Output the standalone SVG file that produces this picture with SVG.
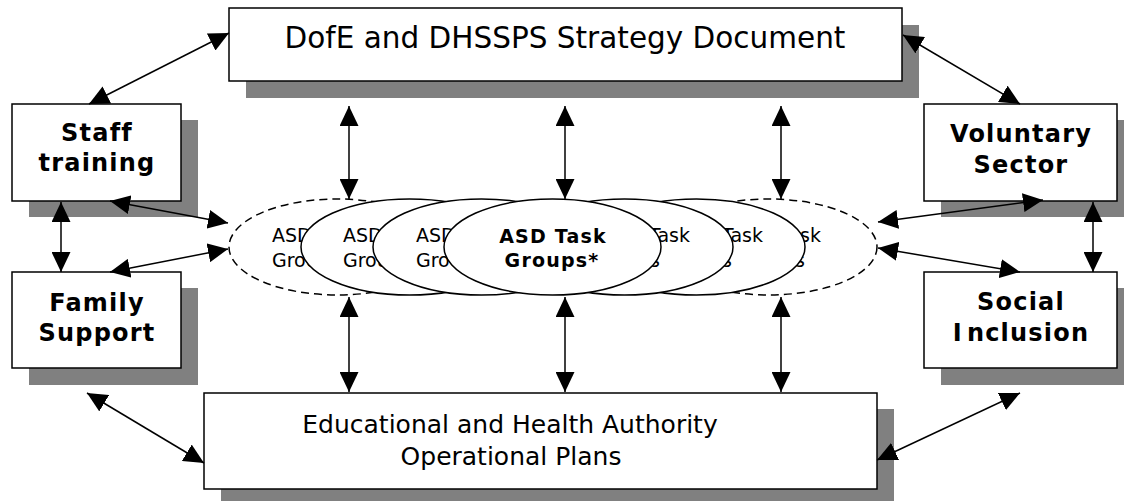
<svg xmlns="http://www.w3.org/2000/svg" width="1124" height="501" viewBox="0 0 1124 501">
<style>
.box{fill:#fff;stroke:#000;stroke-width:1.5}
.shadow{fill:#808080}
.ell{fill:#fff;stroke:#000;stroke-width:1.5}
.dash{stroke-dasharray:8 5}
.t{font-family:"DejaVu Sans",Verdana,sans-serif;fill:#000}
.reg{font-size:19px}
.bl{font-size:24px;font-weight:bold;text-anchor:middle;letter-spacing:1.2px}
.eb{font-size:19px;font-weight:bold;text-anchor:middle;letter-spacing:1.2px}
.conn line{stroke:#000;stroke-width:1.5;marker-start:url(#ah);marker-end:url(#ah)}
</style>
<defs>
<marker id="ah" markerUnits="userSpaceOnUse" markerWidth="20" markerHeight="19" refX="20" refY="9.5" orient="auto-start-reverse" viewBox="0 0 20 19">
<path d="M0,0 L20,9.5 L0,19 Z" fill="#000"/>
</marker>
</defs>
<rect width="1124" height="501" fill="#fff"/>

<g id="strategy">
<rect class="shadow" x="246" y="25" width="673" height="73"/>
<rect class="box" x="229" y="8" width="673" height="73"/>
<text class="t" x="565" y="48" font-size="29.5" text-anchor="middle">DofE and DHSSPS Strategy Document</text>
</g>

<g id="staff">
<rect class="shadow" x="29" y="120" width="169" height="97"/>
<rect class="box" x="12" y="104" width="169" height="97"/>
<text class="t bl" x="97" y="141">Staff</text>
<text class="t bl" x="97" y="171">training</text>
</g>

<g id="family">
<rect class="shadow" x="29" y="288" width="169" height="97"/>
<rect class="box" x="12" y="272" width="169" height="96"/>
<text class="t bl" x="97" y="311">Family</text>
<text class="t bl" x="97" y="341">Support</text>
</g>

<g id="voluntary">
<rect class="shadow" x="941" y="120" width="193" height="97"/>
<rect class="box" x="924" y="104" width="193" height="97"/>
<text class="t bl" x="1021" y="142">Voluntary</text>
<text class="t bl" x="1021" y="173">Sector</text>
</g>

<g id="social">
<rect class="shadow" x="941" y="288" width="193" height="97"/>
<rect class="box" x="924" y="272" width="193" height="96"/>
<text class="t bl" x="1021" y="310">Social</text>
<text class="t bl" x="1021" y="341">I<tspan dx="4">nclusion</tspan></text>
</g>

<g id="operational">
<rect class="shadow" x="221" y="409" width="673" height="100"/>
<rect class="box" x="204" y="393" width="673" height="96"/>
<text class="t" x="510" y="433" font-size="25" text-anchor="middle">Educational and Health Authority</text>
<text class="t" x="511" y="465" font-size="25" text-anchor="middle">Operational Plans</text>
</g>

<g id="task-groups">
<g id="tg-dashed-left">
<ellipse class="ell dash" cx="337.5" cy="247" rx="108.5" ry="48"/>
<text class="t reg" x="272" y="242">ASD Task</text>
<text class="t reg" x="272" y="267">Groups</text>
</g>
<g id="tg-dashed-right">
<ellipse class="ell dash" cx="768.5" cy="247" rx="108.5" ry="48"/>
<text class="t reg" x="821" y="242" text-anchor="end">ASD Task</text>
<text class="t reg" x="805" y="267" text-anchor="end">Groups</text>
</g>
<g id="tg-1">
<ellipse class="ell" cx="409.5" cy="247" rx="108.5" ry="48"/>
<text class="t reg" x="343" y="242">ASD Task</text>
<text class="t reg" x="343" y="267">Groups</text>
</g>
<g id="tg-5">
<ellipse class="ell" cx="696.5" cy="247" rx="108.5" ry="48"/>
<text class="t reg" x="763" y="242" text-anchor="end">ASD Task</text>
<text class="t reg" x="732" y="267" text-anchor="end">Groups</text>
</g>
<g id="tg-2">
<ellipse class="ell" cx="481.5" cy="247" rx="108.5" ry="48"/>
<text class="t reg" x="416" y="242">ASD Task</text>
<text class="t reg" x="416" y="267">Groups</text>
</g>
<g id="tg-4">
<ellipse class="ell" cx="624.5" cy="247" rx="108.5" ry="48"/>
<text class="t reg" x="690" y="242" text-anchor="end">ASD Task</text>
<text class="t reg" x="660" y="267" text-anchor="end">Groups</text>
</g>
<g id="tg-main">
<ellipse class="ell" cx="552.5" cy="247" rx="108.5" ry="48"/>
<text class="t eb" x="553" y="243">ASD Task</text>
<text class="t eb" x="552" y="267">Groups*</text>
</g>
</g>

<g id="connectors" class="conn">
<line x1="349" y1="106" x2="349" y2="199"/>
<line x1="565" y1="106" x2="565" y2="199"/>
<line x1="781" y1="106" x2="781" y2="199"/>
<line x1="349" y1="297" x2="349" y2="392"/>
<line x1="565" y1="297" x2="565" y2="392"/>
<line x1="781" y1="297" x2="781" y2="392"/>
<line x1="61" y1="202" x2="61" y2="272"/>
<line x1="1093" y1="202" x2="1093" y2="272"/>
<line x1="229" y1="33" x2="89" y2="104"/>
<line x1="903" y1="35" x2="1020" y2="104"/>
<line x1="110" y1="201" x2="228" y2="223"/>
<line x1="110" y1="272" x2="228" y2="249"/>
<line x1="878" y1="222" x2="1043" y2="200"/>
<line x1="878" y1="248" x2="1020" y2="272"/>
<line x1="87" y1="393" x2="204" y2="463"/>
<line x1="1020" y1="393" x2="877" y2="460"/>
</g>
</svg>
